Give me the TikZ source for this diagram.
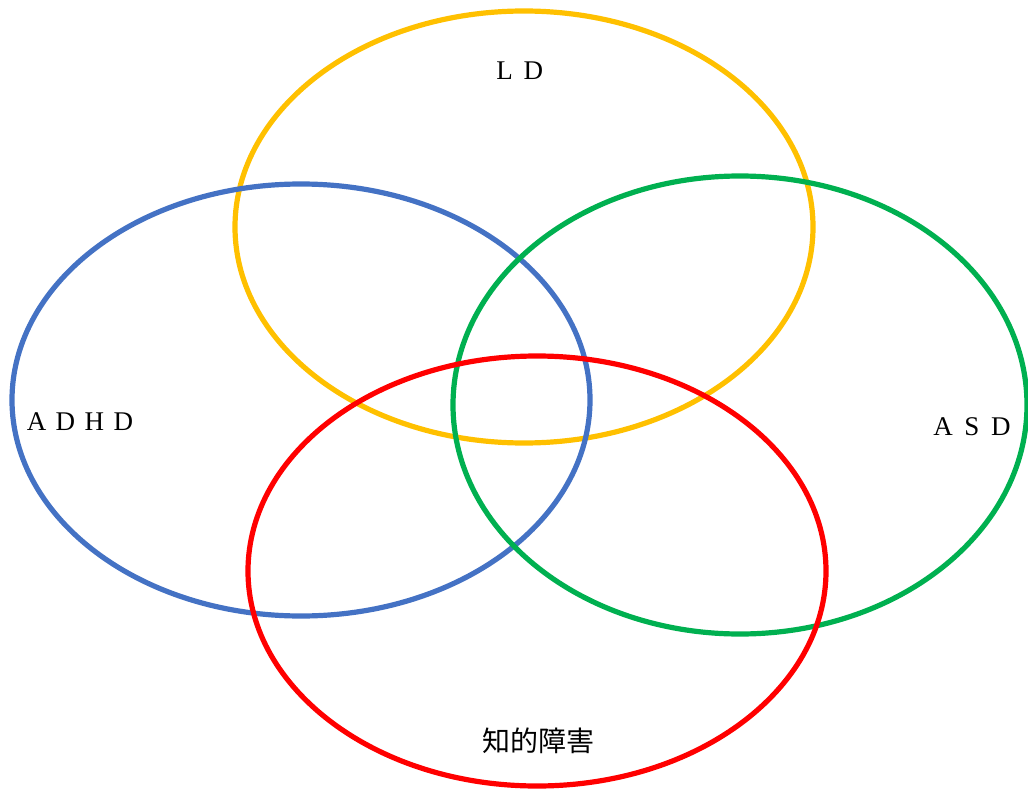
\documentclass[tikz,border=0pt]{standalone}
\usepackage{fontspec}
\setmainfont{Liberation Serif}
\newfontfamily\cjk{Noto Sans CJK JP}
\newcommand{\fwc}[1]{\makebox[29pt]{#1}}
\definecolor{cyellow}{HTML}{FFC000}
\definecolor{cblue}{HTML}{4472C4}
\definecolor{cgreen}{HTML}{00B050}
\definecolor{cred}{HTML}{FF0000}
\begin{document}
\begin{tikzpicture}[x=1pt,y=-1pt,
  setring/.style={line width=5.2pt},
  lbl/.style={inner sep=0pt,font=\fontsize{27}{30}\selectfont,anchor=base},
  cjklbl/.style={inner sep=0pt,font=\cjk\fontsize{28}{31}\selectfont}]
\useasboundingbox (0,0) rectangle (1028,789);
\draw[setring,cyellow] (524,227) ellipse [x radius=289, y radius=216];
\draw[setring,cblue] (301,400) ellipse [x radius=289, y radius=216];
\draw[setring,cgreen] (740,405) ellipse [x radius=287, y radius=229];
\draw[setring,cred] (537,571) ellipse [x radius=289, y radius=215];
\node[lbl] (ld) at (519,80) {\fwc{L}\fwc{D}};
\node[lbl] (adhd) at (80,430) {\fwc{A}\fwc{D}\fwc{H}\fwc{D}};
\node[lbl] (asd) at (972,435) {\fwc{A}\fwc{S}\fwc{D}};
\node[cjklbl] (id) at (538,741) {知的障害};
\end{tikzpicture}
\end{document}
